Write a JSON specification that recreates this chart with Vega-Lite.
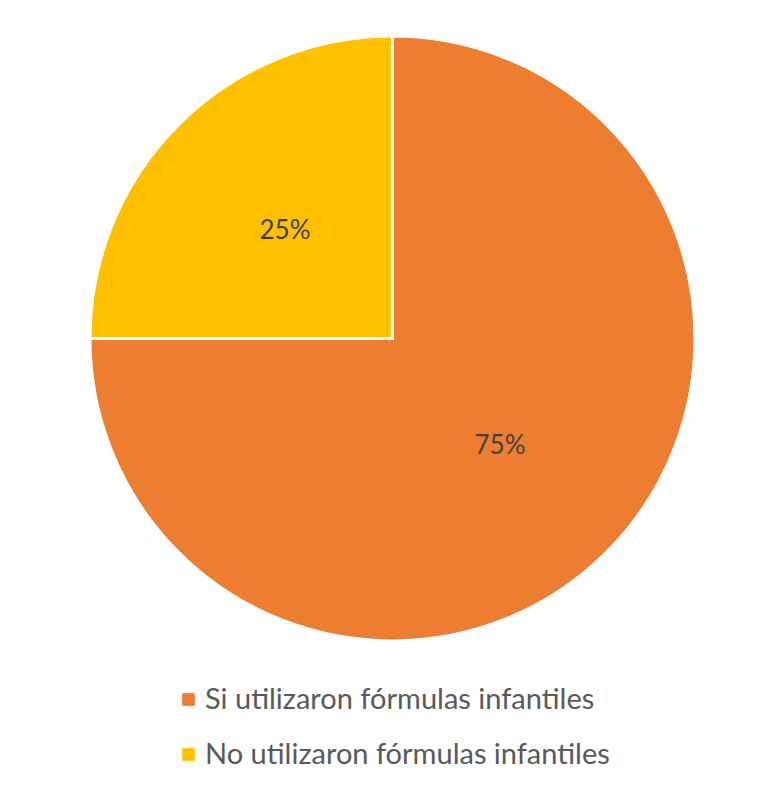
{
  "$schema": "https://vega.github.io/schema/vega-lite/v6.json",
  "width": 605,
  "height": 605,
  "padding": {"left": 84, "top": 30, "right": 79, "bottom": 0},
  "background": "white",
  "config": {"view": {"stroke": null}},
  "data": {
    "values": [
      {"categoria": "Si utilizaron fórmulas infantiles", "valor": 0.75, "orden": 1},
      {"categoria": "No utilizaron fórmulas infantiles", "valor": 0.25, "orden": 2}
    ]
  },
  "encoding": {
    "theta": {"field": "valor", "type": "quantitative", "stack": true},
    "order": {"field": "orden", "type": "quantitative"},
    "color": {
      "field": "categoria",
      "type": "nominal",
      "scale": {
        "domain": ["Si utilizaron fórmulas infantiles", "No utilizaron fórmulas infantiles"],
        "range": ["#ED7D31", "#FFC000"]
      },
      "legend": {
        "title": null,
        "orient": "none",
        "legendX": 84,
        "legendY": 649,
        "direction": "vertical",
        "symbolType": "square",
        "symbolSize": 160,
        "symbolStrokeWidth": 0,
        "labelFont": "Lato",
        "labelFontSize": 29,
        "labelColor": "#595959",
        "labelLimit": 600,
        "rowPadding": 25,
        "labelOffset": 2
      }
    }
  },
  "layer": [
    {
      "mark": {"type": "arc", "stroke": "white", "strokeWidth": 3}
    },
    {
      "mark": {"type": "text", "radius": 152, "font": "Lato", "fontSize": 26, "color": "#404040"},
      "encoding": {
        "text": {"field": "valor", "type": "quantitative", "format": ".0%"},
        "color": {"value": "#404040"}
      }
    }
  ]
}
